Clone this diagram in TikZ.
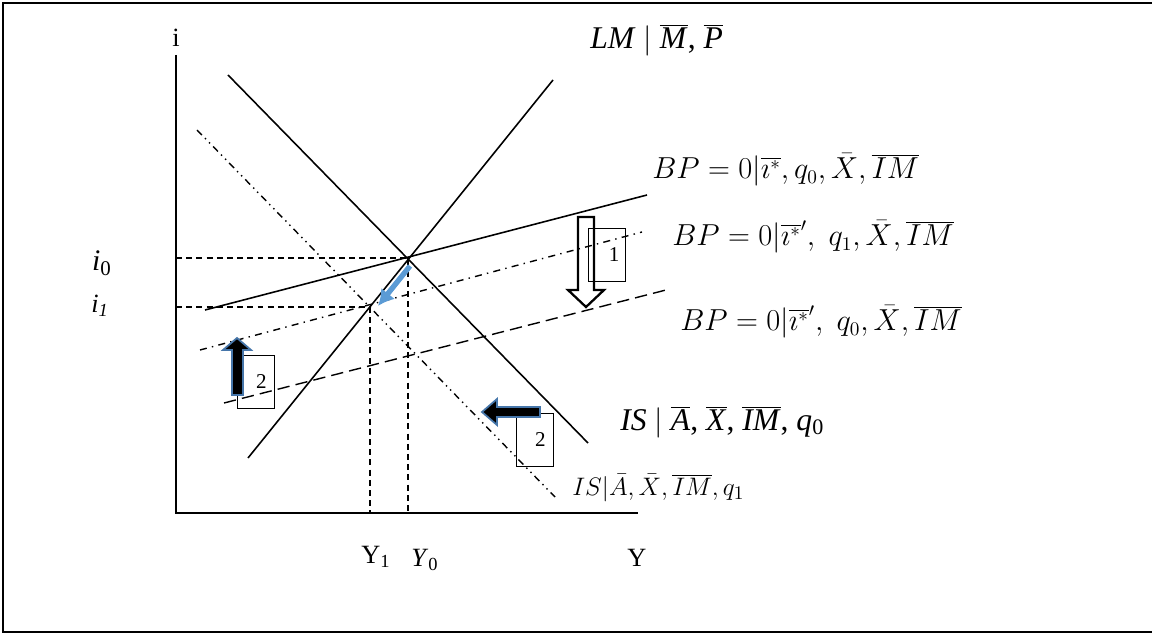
\documentclass[tikz,border=0pt]{standalone}
\usepackage{fontspec}
\setmainfont{Liberation Serif}
\usepackage{tikz}
\usetikzlibrary{positioning, calc, arrows.meta}
\definecolor{shiftblue}{RGB}{91, 155, 213}
\definecolor{edgeblue}{RGB}{70, 118, 170}
\tikzset{
    axis/.style={line width=1.1pt},
    curve/.style={line width=0.9pt},
    guide/.style={line width=0.8pt, dash pattern=on 3.4pt off 2.4pt},
    shifted/.style={line width=0.8pt, dash pattern=on 4pt off 2.5pt on 0.8pt off 2.5pt on 0.8pt off 2.5pt},
    bpdot/.style={line width=0.8pt, dash pattern=on 4pt off 3pt on 0.8pt off 3pt},
    bpdash/.style={line width=0.8pt, dash pattern=on 7pt off 3.5pt},
    curvelabel/.style={anchor=west, inner sep=0pt, font=\fontsize{16}{18}\selectfont},
    textlabel/.style={anchor=west, inner sep=0pt, font=\fontsize{18}{20}\selectfont},
    axislabel/.style={inner sep=0pt, font=\fontsize{15}{17}\selectfont},
    stepbox/.style={draw, line width=0.6pt, minimum width=21pt, minimum height=30pt, inner sep=0pt, font=\fontsize{12}{14}\selectfont},
    solidarrow/.style={draw=edgeblue, fill=black, line width=1pt, line join=miter}
}

\begin{document}
\begin{tikzpicture}[x=0.02cm, y=-0.02cm]

    % Frame
    \useasboundingbox (0,0) rectangle (1152,634);
    \draw [line width=1.2pt] (1152,3) -- (3,3) -- (3,632) -- (1152,632);

    % Axes
    \coordinate (origin) at (176,513);
    \coordinate (ytop) at (176,55);
    \coordinate (xend) at (638,513);
    \draw [axis] (ytop) -- (origin) -- (xend);
    \node (ilabel) [axislabel] at (176,38) {i};
    \node (ylabel) [axislabel] at (637,558) {Y};

    % Curves
    \coordinate (lmA) at (248,458);
    \coordinate (lmB) at (553,80);
    \coordinate (isA) at (228,75);
    \coordinate (isB) at (588,443);
    \coordinate (isqA) at (197,130);
    \coordinate (isqB) at (555,497);
    \coordinate (bpA) at (205,310);
    \coordinate (bpB) at (647,195);
    \coordinate (bpqA) at (200,350);
    \coordinate (bpqB) at (642,232);
    \coordinate (bpiA) at (224,403);
    \coordinate (bpiB) at (666,290);
    \draw [curve] (lmA) -- (lmB);
    \draw [curve] (isA) -- (isB);
    \draw [shifted] (isqA) -- (isqB);
    \draw [curve] (bpA) -- (bpB);
    \draw [bpdot] (bpqA) -- (bpqB);
    \draw [bpdash] (bpiA) -- (bpiB);

    % Equilibria
    \coordinate (eq0) at (408,258);
    \coordinate (eq1) at (370,307);
    \draw [guide] (origin |- eq0) -- (eq0) -- (eq0 |- origin);
    \draw [guide] (origin |- eq1) -- (eq1) -- (eq1 |- origin);
    \node (i0) [axislabel, font=\fontsize{17}{19}\selectfont] at (102,263) {\textit{i}\textsubscript{0}};
    \node (i1) [axislabel] at (100,306) {\textit{i}\textsubscript{\textit{1}}};
    \node (y1) [axislabel] at (376,557) {Y\textsubscript{1}};
    \node (y0) [axislabel] at (425,560) {\textit{Y}\textsubscript{0}};

    % Curve labels
    \node (lmlabel) [textlabel] at (590,40) {\textit{LM} $|$ $\overline{\mbox{\textit{M}}}$, $\overline{\mbox{\textit{P}}}$};
    \node (bplabel) [curvelabel] at (652,170) {$BP=0|\overline{\imath^{*}},q_0,\bar{X},\overline{IM}$};
    \node (bpqlabel) [curvelabel] at (672,237) {$BP=0|\overline{\imath^{*}}',\;q_1,\bar{X},\overline{IM}$};
    \node (bpilabel) [curvelabel] at (680,322) {$BP=0|\overline{\imath^{*}}',\;q_0,\bar{X},\overline{IM}$};
    \node (islabel) [textlabel] at (620,422) {\textit{IS} $|$ $\overline{\mbox{\textit{A}}}$, $\overline{\mbox{\textit{X}}}$, $\overline{\mbox{\textit{IM}}}$, \textit{q}\textsubscript{0}};
    \node (isqlabel) [curvelabel, font=\fontsize{15.5}{17}\selectfont] at (572,488) {$IS|\bar{A},\bar{X},\overline{IM},q_1$};

    % Step boxes
    \node (box1) [stepbox] at (607,255) {\hspace{8pt}1};
    \node (box2l) [stepbox] at (256,382) {\hspace{6pt}2};
    \node (box2r) [stepbox] at (535,440) {\hspace{6pt}2};

    % Arrows
    \draw [line width=1.3pt, line join=miter] (578,217) -- (594,217) -- (594,290) -- (604,290) -- (586,307) -- (568,290) -- (578,290) -- cycle;
    \draw [solidarrow] (232,395) -- (243,395) -- (243,350) -- (251,350) -- (237,338) -- (223,350) -- (232,350) -- cycle;
    \draw [solidarrow] (540,407) -- (540,417) -- (497,417) -- (497,425) -- (482,412) -- (497,399) -- (497,407) -- cycle;
    \draw [shiftblue, line width=3pt, -{Latex[length=9pt, width=10pt]}] ($(eq0)+(2,8)$) -- ($(eq1)+(8,-1)$);

\end{tikzpicture}
\end{document}
